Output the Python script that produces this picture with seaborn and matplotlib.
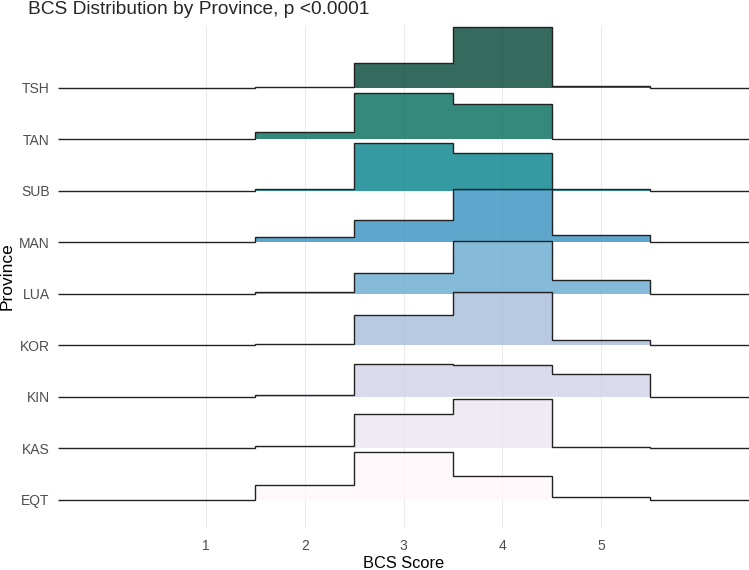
import matplotlib
matplotlib.use("Agg")
import matplotlib.pyplot as plt
import seaborn as sns
import numpy as np
import pandas as pd

# provinces bottom -> top
provinces = ["EQT", "KAS", "KIN", "KOR", "LUA", "MAN", "SUB", "TAN", "TSH"]
bcs_scores = [2, 3, 4, 5]

# share of animals (%) at BCS 2, 3, 4, 5 for each province
pct_eqt = [16.7, 53.5, 26.8, 3.0]
pct_kas = [2.8, 39.1, 55.9, 2.2]
pct_kin = [2.2, 37.0, 35.4, 25.4]
pct_kor = [1.1, 33.7, 59.6, 5.6]
pct_lua = [1.7, 23.9, 59.1, 15.3]
pct_man = [6.0, 25.1, 60.1, 8.7]
pct_sub = [2.3, 53.4, 42.6, 1.7]
pct_tan = [8.4, 51.7, 39.3, 0.6]
pct_tsh = [0.5, 28.0, 68.9, 2.6]

x_ticks = [1, 2, 3, 4, 5]
title = "BCS Distribution by Province, p <0.0001"

pct_rows = [pct_eqt, pct_kas, pct_kin, pct_kor, pct_lua, pct_man, pct_sub, pct_tan, pct_tsh]
df = pd.DataFrame(
    [(p, s, v) for p, row in zip(provinces, pct_rows) for s, v in zip(bcs_scores, row)],
    columns=["province", "score", "pct"],
)

# PuBuGn (brewer, 9 classes), light -> dark
palette = sns.color_palette(["#fff7fb", "#ece7f2", "#d0d1e6", "#a6bddb", "#67a9cf",
                             "#3690c0", "#02818a", "#016c59", "#014636"])

sns.set_theme(style="whitegrid")
plt.rcParams["font.family"] = ["Liberation Sans", "DejaVu Sans"]

fig = plt.figure(figsize=(7.49, 5.70), dpi=100)
ax = fig.add_axes([58 / 749, 1 - 528 / 570, 1 - 58 / 749, (528 - 25) / 570])

scale = 1.728  # ridge height for a density of 1
bins = np.arange(0, 7)
edges = np.arange(-0.5, 7.0, 1.0)

# draw top ridge first so lower ridges overlap it
for i in range(len(provinces) - 1, -1, -1):
    prov = provinces[i]
    sub = df[df["province"] == prov].set_index("score")["pct"]
    dens = sub.reindex(bins, fill_value=0).to_numpy() / 100.0
    z = 10 + (len(provinces) - i) * 2
    ax.stairs(i + dens * scale, edges, baseline=i, fill=True,
              color=palette[i], alpha=0.8, linewidth=0, zorder=z)
    ax.stairs(i + dens * scale, edges, baseline=None, fill=False,
              color="#222222", linewidth=1.0, zorder=z + 1)

ax.set_xlim(-0.5, 6.5)
ax.set_ylim(-0.544, 9.22)
ax.set_xticks(x_ticks)
ax.set_yticks(range(len(provinces)))
ax.set_yticklabels(provinces)
ax.grid(axis="y", visible=False)
ax.grid(axis="x", color="#ebebeb", linewidth=0.8)
for s in ax.spines.values():
    s.set_visible(False)
ax.set_facecolor("white")
ax.tick_params(axis="both", length=0, labelsize=10, labelcolor="#4d4d4d")
ax.tick_params(axis="y", pad=6)
ax.tick_params(axis="x", pad=8)

ax.set_xlabel("BCS Score", fontsize=11.8, color="black", labelpad=2)
ax.set_ylabel("Province", fontsize=12.5, color="black", labelpad=3)
fig.text(28 / 749, 1 - 10 / 570, title, fontsize=13.8, ha="left", va="center")

fig.savefig("out.png", dpi=100, facecolor="white")
